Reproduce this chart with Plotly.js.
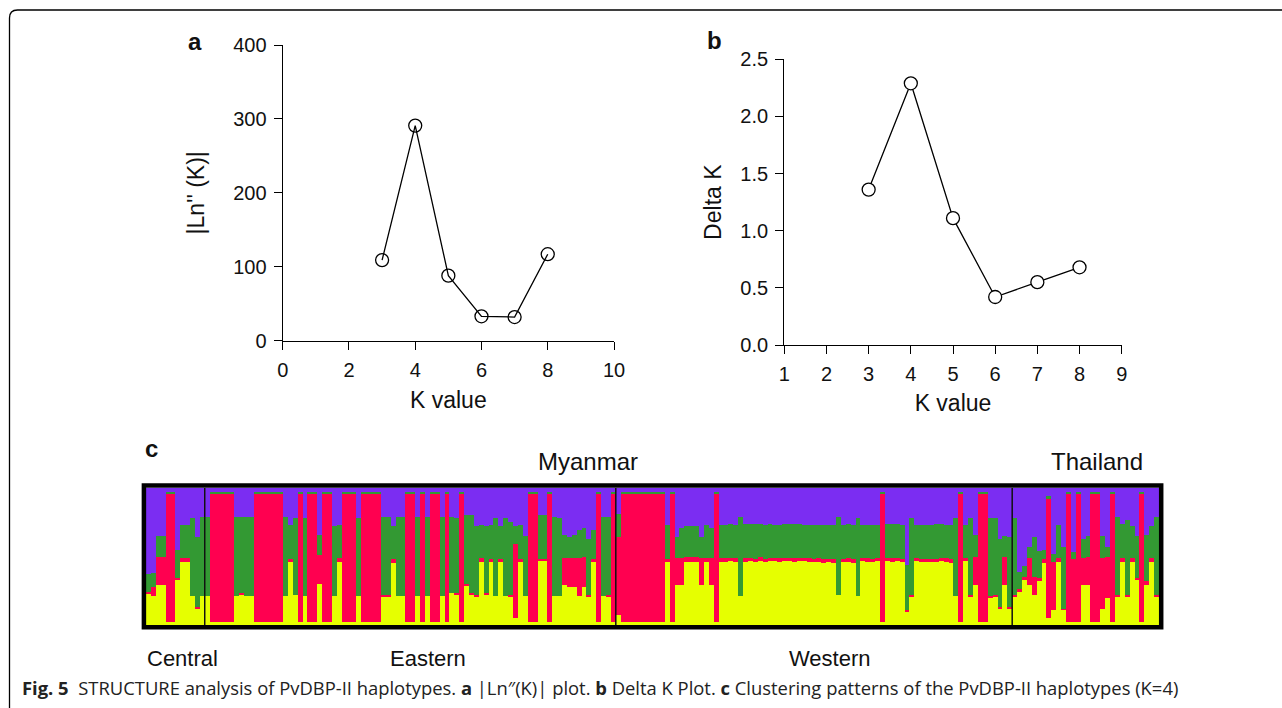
<!DOCTYPE html>
<html>
<head>
<meta charset="utf-8">
<script src="https://cdn.plot.ly/plotly-3.0.1.min.js"></script>
<style>html,body{margin:0;padding:0;background:#fff;}#chart{width:1282px;height:708px;}</style>
</head>
<body>
<div id="chart"></div>
<script>
// ---------- Panel a: |Ln''(K)| ----------
const kValuesA = [3, 4, 5, 6, 7, 8];
const lnK = [109, 291, 88, 33, 32, 117];
// ---------- Panel b: Delta K ----------
const kValuesB = [3, 4, 5, 6, 7, 8];
const deltaK = [1.36, 2.29, 1.11, 0.42, 0.55, 0.68];
// ---------- Panel c: STRUCTURE membership (yellow, red, green, purple) per haplotype ----------
const clusterNames = ['Cluster 1', 'Cluster 2', 'Cluster 3', 'Cluster 4'];
const regionNames = ['Central', 'Eastern', 'Western', 'Thailand'];
const central = [
[.23,.01,.13,.63],[.21,.07,.10,.62],[.29,.21,.15,.35],[.29,.21,.15,.35],[.02,.94,.01,.03],[.02,.94,.01,.03],
[.33,.01,.21,.45],[.46,.03,.24,.27],[.46,.03,.24,.27],[.21,0,.57,.22],[.12,.01,.51,.36],[.21,0,.58,.21]
];
const eastern = [
[.21,0,.58,.21],[.02,.94,.01,.03],[.02,.94,.01,.03],[.02,.94,.01,.03],[.02,.94,.01,.03],[.02,.94,.01,.03],
[.21,0,.58,.21],[.22,.01,.56,.21],[.21,0,.58,.21],[.21,0,.58,.21],
[.02,.94,.01,.03],[.02,.94,.01,.03],[.02,.94,.01,.03],[.02,.94,.01,.03],[.02,.94,.01,.03],[.02,.94,.01,.03],
[.21,0,.58,.21],[.46,.02,.25,.27],[.22,0,.56,.22],[.02,.94,.01,.03],[.21,0,.57,.22],[.02,.94,.01,.03],[.02,.94,.01,.03],
[.30,.21,.15,.34],[.02,.94,.01,.03],[.02,.94,.01,.03],[.21,0,.51,.28],[.46,.03,.24,.27],
[.02,.94,.01,.03],[.02,.94,.01,.03],[.02,.94,.01,.03],[.21,0,.57,.22],
[.02,.94,.01,.03],[.02,.94,.01,.03],[.02,.94,.01,.03],[.02,.94,.01,.03],
[.21,.01,.57,.21],[.21,.01,.57,.21],[.45,.03,.24,.28],[.21,0,.58,.21],[.21,0,.58,.21],
[.02,.94,.01,.03],[.02,.94,.01,.03],[.21,0,.58,.21],
[.02,.94,.01,.03],[.21,0,.58,.21],[.02,.94,.01,.03],[.02,.94,.01,.03],[.21,0,.58,.21],[.02,.94,.01,.03],
[.23,0,.56,.21],[.22,.01,.55,.22],[.02,.94,.01,.03],[.29,.01,.50,.20],[.22,.01,.57,.20],[.21,.01,.50,.28],
[.46,.03,.24,.27],[.22,.01,.49,.28],[.46,.02,.25,.27],[.21,0,.57,.22],[.46,.02,.24,.28],[.21,0,.57,.22],
[.21,.01,.53,.25],[.05,.54,.13,.28],[.46,.02,.25,.27],[.21,0,.44,.35],[.02,.94,.01,.03],[.02,.94,.01,.03],
[.47,.01,.32,.20],[.47,.01,.32,.20],[.02,.94,.01,.03],[.21,0,.58,.21],[.21,0,.57,.22],
[.29,.20,.17,.34],[.28,.21,.15,.36],[.28,.21,.17,.34],[.21,.28,.20,.31],[.28,.22,.21,.29],
[.21,.01,.41,.37],[.46,.02,.21,.31],[.02,.94,.01,.03],[.21,0,.58,.21],[.21,.01,.57,.21],[.02,.94,.01,.03]
];
const western = [
[.07,.57,.17,.19],
[.02,.94,.01,.03],[.02,.94,.01,.03],[.02,.94,.01,.03],[.02,.94,.01,.03],[.02,.94,.01,.03],
[.02,.94,.01,.03],[.02,.94,.01,.03],[.02,.94,.01,.03],[.02,.94,.01,.03],
[.46,.02,.25,.27],[.02,.94,.01,.03],[.29,.20,.15,.36],[.29,.20,.22,.29],
[.46,.04,.22,.28],[.46,.04,.22,.28],[.46,.04,.22,.28],[.29,.20,.15,.36],[.46,.03,.24,.27],[.29,.20,.22,.29],
[.02,.94,.01,.03],[.46,.03,.24,.27],[.46,.03,.24,.27],[.47,.02,.25,.26],[.46,.03,.24,.27],[.21,0,.58,.21],
[.46,.03,.25,.26],[.47,.02,.25,.26],[.46,.02,.26,.26],[.47,.03,.24,.26],[.46,.02,.25,.27],[.47,.02,.25,.26],
[.47,.02,.24,.27],[.46,.03,.24,.27],[.47,.02,.25,.26],[.47,.02,.25,.26],[.46,.03,.25,.26],[.47,.02,.25,.26],
[.47,.02,.24,.27],[.46,.03,.24,.27],[.46,.02,.25,.27],
[.46,.03,.24,.27],[.45,.03,.25,.27],[.46,.02,.25,.27],[.45,.03,.25,.27],[.22,0,.57,.21],
[.46,.02,.25,.27],[.46,.03,.25,.26],[.45,.03,.25,.27],[.21,0,.57,.22],
[.47,.02,.24,.27],[.46,.03,.24,.27],[.46,.02,.25,.27],[.47,.02,.24,.27],[.02,.94,.01,.03],
[.47,.02,.25,.26],[.46,.03,.25,.26],[.47,.02,.25,.26],[.46,.02,.25,.27],[.10,.01,.33,.56],[.21,.01,.56,.22],
[.47,.02,.24,.27],[.46,.02,.25,.27],[.46,.02,.25,.27],[.46,.02,.25,.27],[.46,.02,.26,.26],[.47,.02,.25,.26],
[.46,.03,.24,.27],[.45,.03,.25,.27],[.21,0,.57,.22],[.02,.94,.01,.03],[.47,.02,.24,.27],[.21,.01,.56,.22],
[.29,.21,.16,.34],[.02,.94,.01,.03],[.02,.94,.01,.03],[.20,.01,.57,.22],[.21,.01,.56,.22],
[.12,.01,.50,.37],[.29,.21,.15,.35],[.12,.01,.51,.36]
];
const thailand = [
[.21,.01,.56,.22],[.24,.02,.13,.61],[.33,.02,.08,.57],[.29,.20,.08,.43],[.22,.13,.29,.36],[.32,.02,.20,.46],
[.45,.03,.07,.45],[.05,.87,.02,.06],[.11,.35,.06,.48],[.46,.03,.24,.27],[.11,.01,.45,.43],[.02,.94,.01,.03],
[.02,.46,.05,.47],[.02,.94,.01,.03],[.29,.20,.14,.37],[.29,.21,.15,.35],[.02,.94,.01,.03],[.02,.94,.01,.03],
[.12,.37,.16,.35],[.20,.30,.07,.43],[.02,.94,.01,.03],[.21,.01,.57,.21],[.46,.03,.25,.26],[.21,.01,.55,.23],
[.46,.03,.23,.28],[.33,.01,.31,.35],[.02,.94,.01,.03],[.29,.03,.34,.34],[.46,.03,.23,.28],[.21,.01,.57,.21]
];
const clusterColors = ['#E6FF00', '#FF0050', '#339933', '#7B2DF2'];

// ---------- build ----------
const W = 1282, H = 708;
const px = x => x / W;
const py = y => 1 - y / H;
const regions = [central, eastern, western, thailand];
const all = [].concat(...regions);
const idx = all.map((_, i) => i);
const FONT = 'Liberation Sans, Arial, sans-serif';

const traces = [];
traces.push({x: kValuesA, y: lnK, xaxis: 'x', yaxis: 'y', type: 'scatter', mode: 'lines+markers',
  line: {color: '#000', width: 1.3},
  marker: {symbol: 'circle-open', size: 13, color: '#000', line: {width: 1.3}}, hoverinfo: 'x+y'});
traces.push({x: kValuesB, y: deltaK, xaxis: 'x2', yaxis: 'y2', type: 'scatter', mode: 'lines+markers',
  line: {color: '#000', width: 1.3},
  marker: {symbol: 'circle', size: 13, color: '#fff', line: {color: '#000', width: 1.3}}, hoverinfo: 'x+y'});
for (let c = 0; c < 4; c++) {
  traces.push({type: 'bar', name: clusterNames[c], x: idx, y: all.map(r => r[c]), xaxis: 'x3', yaxis: 'y3',
    marker: {color: clusterColors[c], line: {width: 0}}, hoverinfo: 'y'});
}

// separators between regions
const shapes = [];
let cum = 0;
for (let r = 0; r < regions.length - 1; r++) {
  cum += regions[r].length;
  shapes.push({type: 'line', xref: 'x3', yref: 'y3', x0: cum - 0.5, x1: cum - 0.5, y0: 0, y1: 1,
    line: {color: '#111', width: 1.5}, layer: 'above'});
}
// thick frame round panel c
shapes.push({type: 'rect', xref: 'paper', yref: 'paper', x0: px(143.9), x1: px(1161.2), y0: py(627.3), y1: py(485.6),
  line: {color: '#000', width: 4.5}, layer: 'above'});
// figure frame
shapes.push({type: 'path', xref: 'paper', yref: 'paper', layer: 'above',
  path: `M ${px(9.5)},${py(708)} L ${px(9.5)},${py(18)} Q ${px(9.5)},${py(10)} ${px(17.5)},${py(10)} L ${px(1282)},${py(10)}`,
  line: {color: '#000', width: 1.3}});

const txt = '#111';
const axBase = {showline: true, linecolor: '#000', linewidth: 1.3, ticks: 'outside', ticklen: 8, tickwidth: 1.3,
  tickcolor: '#000', showgrid: false, zeroline: false, fixedrange: true, ticklabelstandoff: 3,
  tickfont: {family: FONT, size: 20, color: txt}};
const titleFont = {family: FONT, size: 23, color: txt};

const ann = (text, x, y, size, opts = {}) => Object.assign({text, x: px(x), y: py(y), xref: 'paper', yref: 'paper',
  xanchor: 'center', yanchor: 'middle', showarrow: false, font: {family: FONT, size, color: txt}}, opts);

const annotations = [
  ann('<b>a</b>', 195, 42, 24),
  ann('<b>b</b>', 714, 40, 24),
  ann('<b>c</b>', 151, 448, 24),
  ann('Myanmar', 588, 461, 24),
  ann('Thailand', 1097, 461, 24),
  ann(regionNames[0], 182, 658, 22),
  ann(regionNames[1], 428, 658, 22),
  ann(regionNames[2], 830, 658, 22),
  ann('<b>Fig. 5</b>  STRUCTURE analysis of PvDBP-II haplotypes. <b>a</b> |Ln″(K)| plot. <b>b</b> Delta K Plot. <b>c</b> Clustering patterns of the PvDBP-II haplotypes (K=4)',
    20, 687, 18.4, {xanchor: 'left', font: {family: 'Open Sans, sans-serif', size: 18.4, color: '#222'}})
];

const layout = {
  width: W, height: H, margin: {l: 0, r: 0, t: 0, b: 0},
  paper_bgcolor: '#fff', plot_bgcolor: 'rgba(0,0,0,0)', showlegend: false,
  barmode: 'stack', bargap: 0,
  xaxis: Object.assign({}, axBase, {domain: [px(282.7), px(614)], range: [0, 10], dtick: 2, anchor: 'y',
    title: {text: 'K value', standoff: 12, font: titleFont}}),
  yaxis: Object.assign({}, axBase, {domain: [py(340.7), py(45)], range: [0, 400], dtick: 100, anchor: 'x',
    title: {text: '|Ln\'\' (K)|', standoff: 22, font: titleFont}}),
  xaxis2: Object.assign({}, axBase, {domain: [px(784.3), px(1121.7)], range: [1, 9], dtick: 1, anchor: 'y2',
    title: {text: 'K value', standoff: 10, font: titleFont}}),
  yaxis2: Object.assign({}, axBase, {domain: [py(345), py(59.3)], range: [0, 2.5], dtick: 0.5, tickformat: '.1f', anchor: 'x2',
    title: {text: 'Delta K', standoff: 12, font: titleFont}}),
  xaxis3: {domain: [px(146), px(1159)], range: [-0.5, all.length - 0.5], visible: false, anchor: 'y3', fixedrange: true},
  yaxis3: {domain: [py(625), py(488)], range: [0, 1], visible: false, anchor: 'x3', fixedrange: true},
  shapes, annotations
};

Plotly.newPlot('chart', traces, layout, {displayModeBar: false});
</script>
</body>
</html>
